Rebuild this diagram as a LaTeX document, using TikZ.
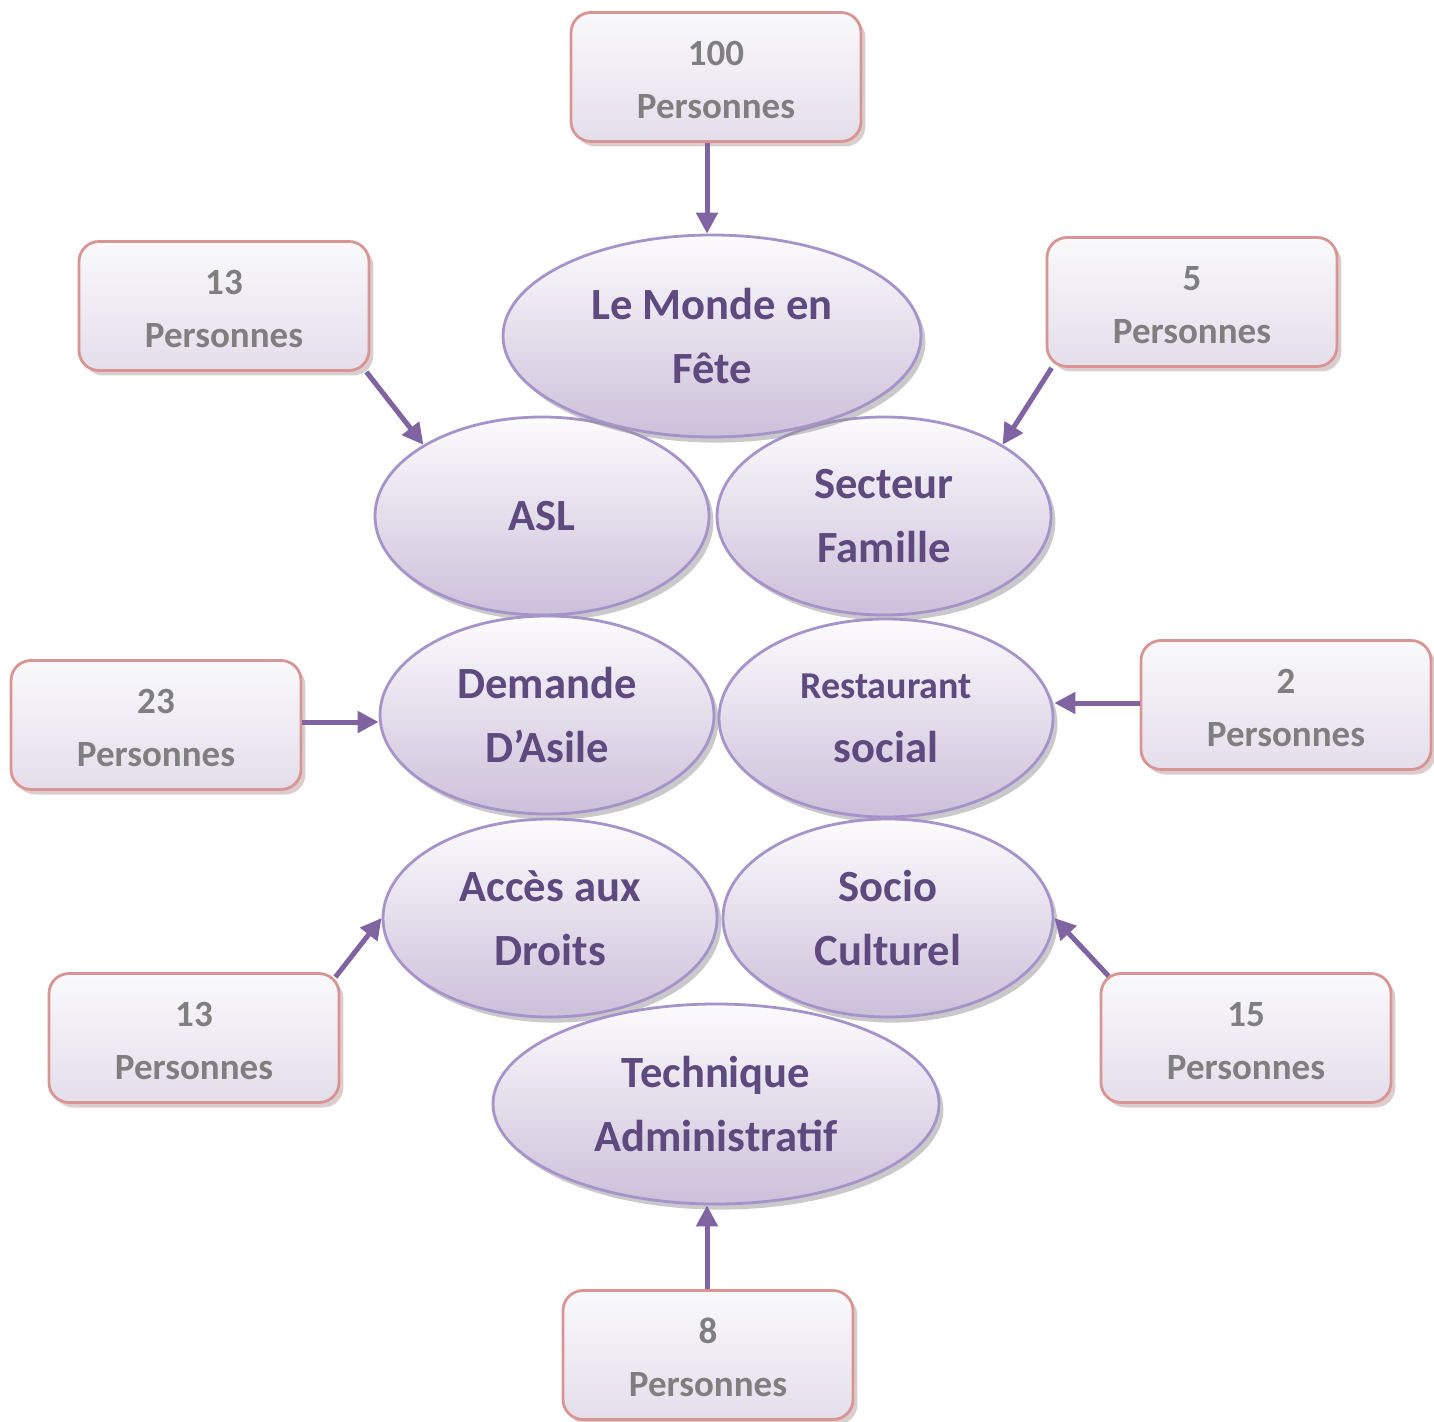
\documentclass[tikz,border=0pt]{standalone}
\usepackage{fontspec}
\setmainfont{Carlito}
\usetikzlibrary{shapes.geometric,shadows,arrows.meta}
\definecolor{elltext}{HTML}{5E4A7F}
\definecolor{boxtext}{HTML}{7F7F7F}
\definecolor{arrcol}{HTML}{8064A2}
\definecolor{ellborder}{HTML}{A593C9}
\definecolor{ellbottom}{HTML}{CCC0DA}
\definecolor{elltop}{HTML}{FCFBFD}
\definecolor{boxborder}{HTML}{D99594}
\definecolor{boxtop}{HTML}{F9F9FB}
\definecolor{boxbottom}{HTML}{E4DEEB}
\definecolor{boxshadow}{HTML}{B79C9C}
\definecolor{ellshadow}{HTML}{949296}
\newcommand{\topstrut}{\rule{0pt}{15pt}}
\tikzset{
  ell/.style={ellipse, draw=ellborder, line width=1.4pt, inner sep=0pt,
    top color=elltop, bottom color=ellbottom,
    drop shadow={shadow xshift=2.2pt, shadow yshift=-2.8pt, fill=ellshadow},
    text=elltext, align=center, font=\bfseries\fontsize{22.3}{32}\selectfont},
  pbox/.style={rectangle, rounded corners=10pt, draw=boxborder, line width=1.4pt,
    minimum width=145pt, minimum height=64.5pt, inner sep=0pt,
    top color=boxtop, bottom color=boxbottom,
    drop shadow={shadow xshift=2.2pt, shadow yshift=-2.5pt, fill=boxshadow},
    text=boxtext, align=center, font=\bfseries\fontsize{18.5}{26.5}\selectfont},
  arr/.style={draw=arrcol, line width=2.5pt, -{Triangle[length=10.5pt,width=10.5pt]}, fill=arrcol}
}
\begin{document}
\begin{tikzpicture}[x=0.5pt,y=-0.5pt]
\useasboundingbox (0,0) rectangle (1434,1422);
% ellipses
\node[ell, minimum width=167pt, minimum height=99pt] (asl) at (542,516) {ASL};
\node[ell, minimum width=167pt, minimum height=99pt] (sec) at (884,516) {Secteur\\Famille};
\node[ell, minimum width=167pt, minimum height=99pt] (dem) at (547,715) {Demande\\D’Asile};
\node[ell, minimum width=167pt, minimum height=99pt] (rest) at (886,718) {{\fontsize{19}{32}\selectfont Restaurant}\\social};
\node[ell, minimum width=167pt, minimum height=99pt] (acc) at (550,918) {Accès aux\\Droits};
\node[ell, minimum width=165pt, minimum height=99pt] (soc) at (888,918) {Socio\\Culturel};
\node[ell, minimum width=209pt, minimum height=101pt] (monde) at (712,336) {Le Monde en\\Fête};
\node[ell, minimum width=223pt, minimum height=100pt] (tech) at (716,1104) {Technique\\Administratif};
% boxes
\node[pbox] (b100) at (716,77) {\topstrut 100\\Personnes};
\node[pbox] (b13a) at (224,306) {\topstrut 13\\Personnes};
\node[pbox] (b5) at (1192,302) {\topstrut 5\\Personnes};
\node[pbox] (b23) at (156,725) {\topstrut 23\\Personnes};
\node[pbox] (b2) at (1286,705) {\topstrut 2\\Personnes};
\node[pbox] (b13b) at (194,1038) {\topstrut 13\\Personnes};
\node[pbox] (b15) at (1246,1038) {\topstrut 15\\Personnes};
\node[pbox] (b8) at (708,1355) {\topstrut 8\\Personnes};
% arrows
\draw[arr] ([xshift=-4.5pt]b100.south) -- ([xshift=-2.5pt]monde.north);
\draw[arr] ([xshift=-2pt]b13a.south east) -- (asl.149);
\draw[arr] ([xshift=3pt]b5.south west) -- (sec.31);
\draw[arr] ([yshift=1.5pt]b23.east) -- ([yshift=-3.5pt]dem.west);
\draw[arr] ([yshift=1pt]b2.west) -- ([yshift=7.5pt]rest.east);
\draw[arr] ([xshift=-2.5pt,yshift=-2.5pt]b13b.north east) -- (acc.west);
\draw[arr] ([xshift=4.5pt,yshift=-2pt]b15.north west) -- (soc.east);
\draw[arr] ([xshift=-0.5pt]b8.north) -- ([xshift=-4.5pt]tech.south);
\end{tikzpicture}
\end{document}
